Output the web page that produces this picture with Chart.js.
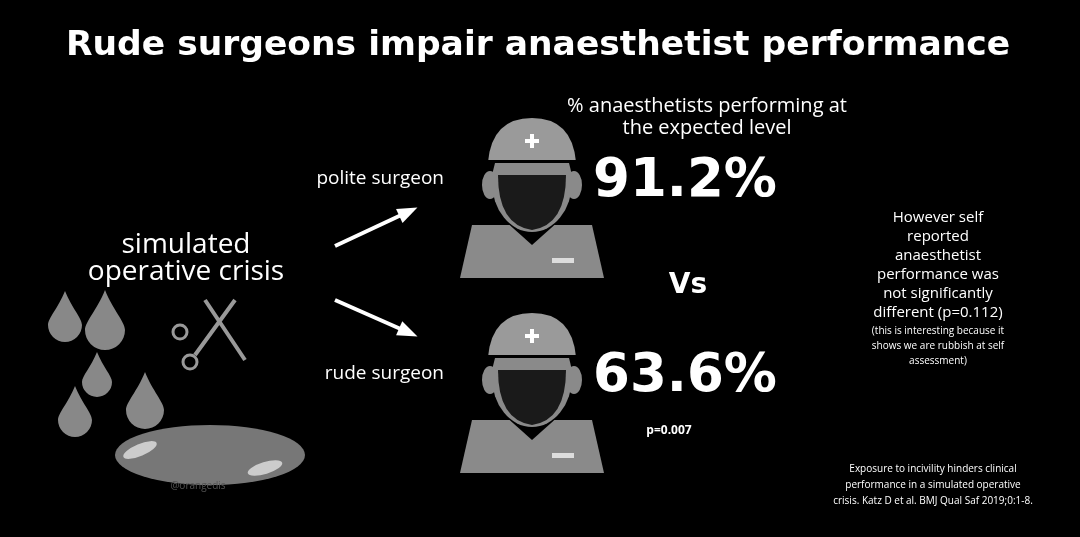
<!DOCTYPE html>
<html lang="en">
<head>
<meta charset="UTF-8">
<title>Rude surgeons impair anaesthetist performance</title>
<script src="https://cdn.jsdelivr.net/npm/chart.js"></script>
<style>
  html, body { margin: 0; padding: 0; background: #000; overflow: hidden; }
  #wrap { width: 1080px; height: 537px; }
</style>
</head>
<body>
<div id="wrap"><canvas id="chart"></canvas></div>
<script>
// data
const groups = ["polite surgeon", "rude surgeon"];
const performance = [91.2, 63.6];
const pValue = "p=0.007";
const selfReport = ["However self", "reported", "anaesthetist", "performance was", "not significantly", "different (p=0.112)"];
const selfNote = ["(this is interesting because it", "shows we are rubbish at self", "assessment)"];
const citation = ["Exposure to incivility hinders clinical", "performance in a simulated operative", "crisis. Katz D et al. BMJ Qual Saf 2019;0:1-8."];

// row position of each group on the canvas (y scale is pixel-like 0..537)
const rowY = [200, 395];
const iconX = 532;

function drawSurgeon(ctx, cx, cy) {
  ctx.save();
  ctx.fillStyle = "#8a8a8a";
  ctx.beginPath();
  ctx.moveTo(cx - 60, cy + 25);
  ctx.lineTo(cx + 60, cy + 25);
  ctx.lineTo(cx + 72, cy + 78);
  ctx.lineTo(cx - 72, cy + 78);
  ctx.closePath();
  ctx.fill();
  ctx.fillStyle = "#000";
  ctx.beginPath();
  ctx.moveTo(cx - 28, cy + 20);
  ctx.lineTo(cx + 28, cy + 20);
  ctx.lineTo(cx, cy + 45);
  ctx.closePath();
  ctx.fill();
  ctx.fillStyle = "#8a8a8a";
  ctx.beginPath();
  ctx.ellipse(cx, cy - 18, 40, 50, 0, 0, Math.PI * 2);
  ctx.fill();
  ctx.beginPath();
  ctx.ellipse(cx - 42, cy - 15, 8, 14, 0, 0, Math.PI * 2);
  ctx.ellipse(cx + 42, cy - 15, 8, 14, 0, 0, Math.PI * 2);
  ctx.fill();
  ctx.fillStyle = "#9a9a9a";
  ctx.beginPath();
  ctx.moveTo(cx - 44, cy - 38);
  ctx.quadraticCurveTo(cx - 40, cy - 82, cx, cy - 82);
  ctx.quadraticCurveTo(cx + 40, cy - 82, cx + 44, cy - 38);
  ctx.closePath();
  ctx.fill();
  ctx.fillStyle = "#000";
  ctx.fillRect(cx - 44, cy - 40, 88, 3);
  ctx.fillStyle = "#fff";
  ctx.fillRect(cx - 2, cy - 66, 4, 14);
  ctx.fillRect(cx - 7, cy - 61, 14, 4);
  ctx.fillStyle = "#1a1a1a";
  ctx.beginPath();
  ctx.moveTo(cx - 34, cy - 25);
  ctx.lineTo(cx + 34, cy - 25);
  ctx.quadraticCurveTo(cx + 34, cy + 25, cx, cy + 30);
  ctx.quadraticCurveTo(cx - 34, cy + 25, cx - 34, cy - 25);
  ctx.fill();
  ctx.fillStyle = "#ddd";
  ctx.fillRect(cx + 20, cy + 58, 22, 5);
  ctx.restore();
}

function drawArrow(ctx, x1, y1, x2, y2) {
  ctx.save();
  ctx.strokeStyle = "#fff";
  ctx.fillStyle = "#fff";
  ctx.lineWidth = 4;
  ctx.beginPath();
  ctx.moveTo(x1, y1);
  ctx.lineTo(x2, y2);
  ctx.stroke();
  const a = Math.atan2(y2 - y1, x2 - x1);
  ctx.beginPath();
  ctx.moveTo(x2 + 6 * Math.cos(a), y2 + 6 * Math.sin(a));
  ctx.lineTo(x2 - 16 * Math.cos(a - 0.5), y2 - 16 * Math.sin(a - 0.5));
  ctx.lineTo(x2 - 16 * Math.cos(a + 0.5), y2 - 16 * Math.sin(a + 0.5));
  ctx.closePath();
  ctx.fill();
  ctx.restore();
}

function drop(ctx, x, y, r) {
  ctx.beginPath();
  ctx.moveTo(x, y - r * 2);
  ctx.bezierCurveTo(x + r * 0.4, y - r, x + r, y - r * 0.4, x + r, y);
  ctx.arc(x, y, r, 0, Math.PI);
  ctx.bezierCurveTo(x - r, y - r * 0.4, x - r * 0.4, y - r, x, y - r * 2);
  ctx.fill();
}

const infographic = {
  id: "infographic",
  afterDatasetsDraw(chart) {
    const ctx = chart.ctx;
    const meta = chart.getDatasetMeta(0);
    ctx.save();
    ctx.textAlign = "center";
    ctx.textBaseline = "middle";
    ctx.fillStyle = "#fff";
    ctx.font = "bold 34.5px 'DejaVu Sans', sans-serif";
    ctx.fillText("Rude surgeons impair anaesthetist performance", 538, 46);

    ctx.font = "20px 'Open Sans', sans-serif";
    ctx.fillText("% anaesthetists performing at", 707, 106);
    ctx.fillText("the expected level", 707, 128);

    meta.data.forEach((pt, i) => {
      drawSurgeon(ctx, pt.x, pt.y);
      ctx.fillStyle = "#fff";
      ctx.font = "bold 53px 'DejaVu Sans', sans-serif";
      ctx.fillText(performance[i].toFixed(1) + "%", pt.x + 153, pt.y - 18);
      ctx.font = "19px 'Open Sans', sans-serif";
      ctx.textAlign = "right";
      ctx.fillText(groups[i], pt.x - 88, pt.y - 21);
      ctx.textAlign = "center";
    });
    const last = meta.data[meta.data.length - 1];
    ctx.font = "bold 12px 'Open Sans', sans-serif";
    ctx.fillText(pValue, last.x + 137, last.y + 36);

    ctx.font = "bold 28px 'DejaVu Sans', sans-serif";
    ctx.fillText("Vs", 688, 286);

    drawArrow(ctx, 335, 246, 412, 210);
    drawArrow(ctx, 335, 300, 412, 334);

    ctx.font = "28px 'Open Sans', sans-serif";
    ctx.fillText("simulated", 186, 245);
    ctx.fillText("operative crisis", 186, 272);

    ctx.fillStyle = "#888";
    drop(ctx, 65, 325, 17);
    drop(ctx, 105, 330, 20);
    drop(ctx, 97, 382, 15);
    drop(ctx, 75, 420, 17);
    drop(ctx, 145, 410, 19);
    ctx.fillStyle = "#777";
    ctx.beginPath();
    ctx.ellipse(210, 455, 95, 30, 0, 0, Math.PI * 2);
    ctx.fill();
    ctx.fillStyle = "#ccc";
    ctx.beginPath();
    ctx.ellipse(140, 450, 18, 6, -0.4, 0, Math.PI * 2);
    ctx.ellipse(265, 468, 18, 6, -0.3, 0, Math.PI * 2);
    ctx.fill();
    ctx.fillStyle = "#555";
    ctx.font = "10px 'Open Sans', sans-serif";
    ctx.fillText("@orangedis", 198, 486);
    ctx.strokeStyle = "#999";
    ctx.lineWidth = 4;
    ctx.beginPath();
    ctx.moveTo(205, 300); ctx.lineTo(245, 360);
    ctx.moveTo(235, 300); ctx.lineTo(195, 355);
    ctx.stroke();
    ctx.lineWidth = 3;
    ctx.beginPath();
    ctx.arc(180, 332, 7, 0, Math.PI * 2);
    ctx.stroke();
    ctx.beginPath();
    ctx.arc(190, 362, 7, 0, Math.PI * 2);
    ctx.stroke();

    ctx.fillStyle = "#fff";
    ctx.font = "15px 'Open Sans', sans-serif";
    selfReport.forEach((t, i) => ctx.fillText(t, 938, 218 + i * 19));
    ctx.font = "10px 'Open Sans', sans-serif";
    selfNote.forEach((t, i) => ctx.fillText(t, 938, 331 + i * 15));
    citation.forEach((t, i) => ctx.fillText(t, 933, 469 + i * 16));
    ctx.restore();
  }
};

new Chart(document.getElementById("chart"), {
  type: "scatter",
  data: {
    labels: groups,
    datasets: [{
      data: groups.map((g, i) => ({ x: iconX, y: rowY[i], v: performance[i] })),
      pointRadius: 0,
      pointHoverRadius: 0
    }]
  },
  options: {
    responsive: true,
    maintainAspectRatio: false,
    animation: false,
    events: [],
    layout: { padding: 0 },
    plugins: { legend: { display: false }, tooltip: { enabled: false } },
    scales: {
      x: { type: "linear", min: 0, max: 1080, display: false },
      y: { type: "linear", min: 0, max: 537, reverse: true, display: false }
    }
  },
  plugins: [{
    id: "bg",
    beforeDraw(c) { c.ctx.save(); c.ctx.fillStyle = "#000"; c.ctx.fillRect(0, 0, c.width, c.height); c.ctx.restore(); }
  }, infographic]
});
</script>
</body>
</html>
